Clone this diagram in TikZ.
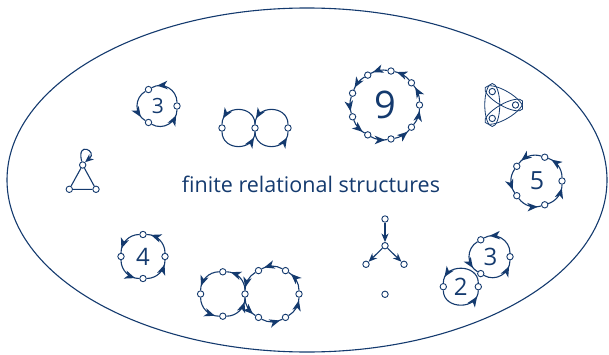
\documentclass[tikz,border=0pt]{standalone}
\usepackage{fontspec}
\setmainfont{Open Sans}
\usetikzlibrary{arrows.meta,decorations.markings,calc}
\definecolor{navy}{RGB}{20,58,110}
\begin{document}
\begin{tikzpicture}[x=1pt,y=1pt,
  v/.style={circle,draw=navy,fill=white,line width=0.9pt,inner sep=0pt,minimum size=6.4pt},
  carc/.style={draw=navy,line width=1.1pt,postaction={decorate},
    decoration={markings,mark=at position #1 with {\fill[navy] (2pt,0pt) -- (-8.5pt,4.3pt) -- (-5.5pt,0pt) -- (-8.5pt,-4.3pt) -- cycle;}}},
  carc/.default=0.78,
  sarrow/.style={draw=navy,line width=1.1pt,-{Stealth[length=8.5pt,width=7pt,inset=2.5pt]}},
  edgeline/.style={draw=navy,line width=1.1pt},
  hyper/.style={draw=navy,line width=0.8pt},
  lbl/.style={text=navy,inner sep=0pt},
  num/.style={lbl,font=\fontsize{#1}{#1}\selectfont},
]
\useasboundingbox (0,0) rectangle (609,354);
% outer ellipse
\draw[navy,line width=1.1pt] (307,174) ellipse [x radius=300, y radius=172];
% title
\node[lbl,font=\fontsize{21.5}{24}\selectfont] (title) at (311,170) {finite relational structures};

% 3-cycle (top left)
\begin{scope}[shift={(158,248)}]
  \node[v] (a0) at (0:19) {};
  \node[v] (a1) at (120:19) {};
  \node[v] (a2) at (240:19) {};
  \node[num=21] (a3) at (0,0) {3};
\end{scope}
\draw[carc] (a0) to[bend right=60,looseness=1.13] (a1);
\draw[carc] (a1) to[bend right=60,looseness=1.13] (a2);
\draw[carc] (a2) to[bend right=60,looseness=1.13] (a0);

% double loop
\node[v] (dL) at (222,226) {};
\node[v] (dM) at (255,226) {};
\node[v] (dR) at (288,226) {};
\draw[carc=0.84] (dM) to[bend right=90,looseness=1.55] (dL);
\draw[carc=0.84] (dL) to[bend right=90,looseness=1.55] (dM);
\draw[carc=0.84] (dR) to[bend right=90,looseness=1.55] (dM);
\draw[carc=0.84] (dM) to[bend right=90,looseness=1.55] (dR);

% 9-cycle
\begin{scope}[shift={(385,249)}]
  \foreach \i in {0,...,8} \node[v] (n\i) at (\i*40:34.5) {};
  \node[num=38] (n9) at (0,0) {9};
\end{scope}
\foreach \i/\j in {0/1,1/2,2/3,3/4,4/5,5/6,6/7,7/8,8/0}
  \draw[carc=0.75] (n\i) to[bend right=20,looseness=0.88] (n\j);

% hypergraph
\begin{scope}[shift={(500,249)}]
  \node[v] (h0) at (0:15.5) {};
  \node[v] (h1) at (120:15.5) {};
  \node[v] (h2) at (240:15.5) {};
  \draw[hyper,shift={(180:7.75)},rotate=90] (0,0) ellipse [x radius=21.5, y radius=7.5];
  \draw[hyper,shift={(60:7.75)},rotate=150] (0,0) ellipse [x radius=21.5, y radius=7.5];
  \draw[hyper,shift={(300:7.75)},rotate=30] (0,0) ellipse [x radius=21.5, y radius=7.5];
\end{scope}

% 5-cycle
\begin{scope}[shift={(537,173)}]
  \foreach \i in {0,...,4} \node[v] (f\i) at (\i*72:25) {};
  \node[num=25] (f5) at (0,0) {5};
\end{scope}
\foreach \i/\j in {0/1,1/2,2/3,3/4,4/0}
  \draw[carc] (f\i) to[bend right=36,looseness=0.94] (f\j);

% triangle with loop
\node[v] (ta) at (82.7,189) {};
\node[v] (tb) at (69.3,164.7) {};
\node[v] (tc) at (96,164.7) {};
\draw[edgeline] (ta) -- (tb) -- (tc) -- (ta);
\draw[sarrow] (ta.105) .. controls +(105:22) and +(40:17) .. (ta.50);

% 4-cycle
\begin{scope}[shift={(143,97.5)}]
  \foreach \i in {0,...,3} \node[v] (q\i) at (\i*90:22) {};
  \node[num=24] (q4) at (0,0) {4};
\end{scope}
\foreach \i/\j in {0/1,1/2,2/3,3/0}
  \draw[carc] (q\i) to[bend right=45,looseness=1.0] (q\j);

% figure eight
\node[v] (eS) at (245,60) {};
\begin{scope}[shift={(222.8,60)}]
  \node[v] (l1) at (90:22.2) {};
  \node[v] (l2) at (180:22.2) {};
  \node[v] (l3) at (270:22.2) {};
\end{scope}
\begin{scope}[shift={(272,60)}]
  \node[v] (r0) at (0:27) {};
  \node[v] (r1) at (60:27) {};
  \node[v] (r2) at (120:27) {};
  \node[v] (r4) at (240:27) {};
  \node[v] (r5) at (300:27) {};
\end{scope}
\draw[carc] (eS) to[bend right=45,looseness=1.0] (l1);
\draw[carc] (l1) to[bend right=45,looseness=1.0] (l2);
\draw[carc] (l2) to[bend right=45,looseness=1.0] (l3);
\draw[carc] (l3) to[bend right=45,looseness=1.0] (eS);
\draw[carc] (r0) to[bend right=30,looseness=0.91] (r1);
\draw[carc] (r1) to[bend right=30,looseness=0.91] (r2);
\draw[carc] (r2) to[bend right=30,looseness=0.91] (eS);
\draw[carc] (eS) to[bend right=30,looseness=0.91] (r4);
\draw[carc] (r4) to[bend right=30,looseness=0.91] (r5);
\draw[carc] (r5) to[bend right=30,looseness=0.91] (r0);

% tree
\node[v] (t1) at (385,135) {};
\node[v] (t2) at (385,108.3) {};
\node[v] (t3) at (366,89.7) {};
\node[v] (t4) at (404,89.7) {};
\node[v] (t5) at (385,59.7) {};
\draw[sarrow] (t1) -- (t2);
\draw[sarrow] (t2) -- (t3);
\draw[sarrow] (t2) -- (t4);

% 3-cycle (bottom right)
\begin{scope}[shift={(490.5,97.3)}]
  \node[v] (b0) at (0:19.5) {};
  \node[v] (b1) at (120:19.5) {};
  \node[v] (b2) at (240:19.5) {};
  \node[num=24] (b3) at (0,0) {3};
\end{scope}
\draw[carc] (b0) to[bend right=60,looseness=1.13] (b1);
\draw[carc] (b1) to[bend right=60,looseness=1.13] (b2);
\draw[carc] (b2) to[bend right=60,looseness=1.13] (b0);

% 2-cycle
\begin{scope}[shift={(460.8,67.3)}]
  \node[v] (c0) at (0:17.5) {};
  \node[v] (c1) at (180:17.5) {};
  \node[num=24] (c2) at (0,0) {2};
\end{scope}
\draw[carc=0.84] (c0) to[bend right=90,looseness=1.45] (c1);
\draw[carc=0.84] (c1) to[bend right=90,looseness=1.45] (c0);
\end{tikzpicture}
\end{document}
